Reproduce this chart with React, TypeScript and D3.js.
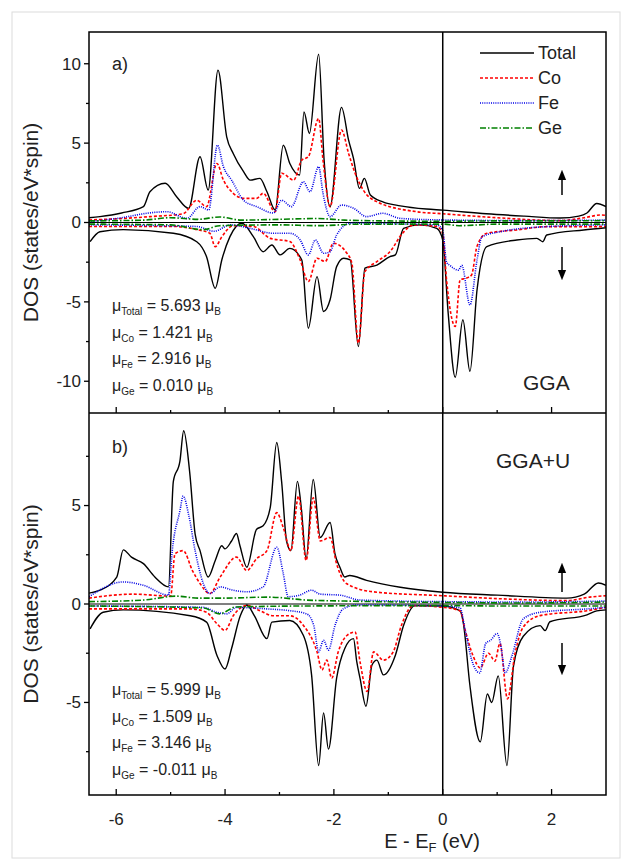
import React, { useRef, useEffect } from "react";
import * as d3 from "d3";

type Pt = [number, number];

// axis ticks
const energyTicks = [-6, -4, -2, 0, 2];
const energyMinor = [-5, -3, -1, 1];
const ggaTicks = [-10, -5, 0, 5, 10];
const ggaMinor = [-7.5, -2.5, 2.5, 7.5];
const ggauTicks = [-5, 0, 5];
const ggauMinor = [-7.5, -2.5, 2.5, 7.5];

const seriesNames = ["Total", "Co", "Fe", "Ge"];

// ---- panel a) GGA ----
const ggaTotalUp: Pt[] = [
  [-6.5, 0.3], [-6.3, 0.37], [-5.9, 0.6], [-5.5, 1.0], [-5.38, 1.94], [-5.1, 2.47], [-4.89, 1.62], [-4.67, 0.89],
  [-4.46, 4.14], [-4.31, 2.04], [-4.13, 9.6], [-3.97, 5.4], [-3.85, 4.35], [-3.66, 3.2], [-3.54, 2.67],
  [-3.36, 2.78], [-3.23, 1.94], [-3.08, 0.79], [-2.93, 4.87], [-2.81, 3.72], [-2.63, 2.99], [-2.55, 6.97],
  [-2.45, 5.61], [-2.28, 10.6], [-2.18, 3.93], [-2.07, 1.0], [-1.86, 7.25], [-1.73, 5.19], [-1.64, 4.04],
  [-1.53, 2.15], [-1.44, 2.78], [-1.33, 1.73], [-1.1, 1.3], [-0.78, 1.05], [-0.3, 0.85], [0, 0.78],
  [0.8, 0.55], [1.5, 0.4], [2.16, 0.28], [2.5, 0.4], [2.65, 0.6], [2.83, 1.2], [3.0, 1.0],
];
const ggaCoUp: Pt[] = [
  [-6.5, 0.16], [-5.9, 0.25], [-5.38, 0.37], [-4.77, 0.55], [-4.52, 1.4], [-4.34, 1.0], [-4.15, 3.72],
  [-4.03, 2.67], [-3.85, 1.84], [-3.66, 1.52], [-3.42, 1.52], [-3.3, 1.84], [-3.08, 0.68], [-2.96, 3.1],
  [-2.74, 2.67], [-2.59, 3.93], [-2.47, 4.14], [-2.28, 6.55], [-2.2, 3.93], [-2.07, 1.0], [-1.86, 5.82],
  [-1.73, 4.35], [-1.61, 3.1], [-1.46, 2.04], [-1.21, 1.31], [-0.48, 0.68], [0, 0.55], [1.0, 0.3],
  [2.16, 0.12], [2.6, 0.3], [2.9, 0.47], [3.0, 0.45],
];
const ggaFeUp: Pt[] = [
  [-6.5, 0.05], [-5.9, 0.3], [-5.44, 0.58], [-5.07, 0.68], [-4.7, 0.26], [-4.46, 1.0], [-4.3, 0.79],
  [-4.14, 4.87], [-4.03, 3.51], [-3.88, 2.67], [-3.66, 1.4], [-3.42, 1.0], [-3.11, 0.6], [-2.96, 1.4],
  [-2.78, 1.0], [-2.56, 2.57], [-2.44, 1.94], [-2.28, 3.51], [-2.2, 1.84], [-2.07, 0.37], [-1.86, 1.1],
  [-1.64, 0.9], [-1.4, 0.37], [-1.1, 0.58], [-0.78, 0.26], [0, 0.16], [1.5, 0.12], [3.0, 0.15],
];
const ggaGeUp: Pt[] = [
  [-6.5, 0.1], [-5.5, 0.15], [-5.0, 0.3], [-4.5, 0.2], [-4.1, 0.35], [-3.7, 0.15], [-3.0, 0.2],
  [-2.3, 0.25], [-1.8, 0.15], [-1.0, 0.1], [0, 0.08], [1.0, 0.1], [2.0, 0.1], [3.0, 0.12],
];
const ggaTotalDown: Pt[] = [
  [-6.48, -1.21], [-6.3, -0.58], [-5.87, -0.45], [-4.95, -0.68], [-4.52, -1.21], [-4.34, -2.15],
  [-4.18, -4.14], [-4.06, -2.36], [-3.91, -0.89], [-3.69, -0.05], [-3.48, -0.89], [-3.3, -1.84],
  [-3.14, -1.42], [-2.99, -2.04], [-2.81, -1.63], [-2.59, -2.36], [-2.47, -6.66], [-2.31, -3.41],
  [-2.19, -5.61], [-2.07, -4.87], [-1.95, -2.78], [-1.82, -2.25], [-1.7, -2.36], [-1.55, -7.81],
  [-1.43, -2.88], [-1.21, -2.68], [-0.97, -2.15], [-0.87, -2.04], [-0.72, -0.37], [-0.42, -0.15],
  [-0.11, -0.37], [0, -1.1], [0.1, -5.71], [0.23, -9.75], [0.37, -6.13], [0.5, -9.38], [0.63, -4.25],
  [0.81, -1.52], [1.36, -1.1], [1.73, -1.0], [1.84, -1.21], [1.91, -0.79], [2.59, -0.47], [3.0, -0.33],
];
const ggaCoDown: Pt[] = [
  [-6.5, -0.25], [-4.95, -0.25], [-4.52, -0.45], [-4.28, -0.68], [-4.18, -1.52], [-4.06, -0.9],
  [-3.85, -0.2], [-3.48, -0.25], [-3.17, -1.0], [-2.81, -1.2], [-2.62, -2.36], [-2.47, -3.72],
  [-2.31, -2.25], [-2.16, -2.46], [-2.01, -1.31], [-1.76, -1.94], [-1.67, -2.57], [-1.55, -7.6],
  [-1.43, -3.1], [-1.21, -2.46], [-0.97, -1.84], [-0.74, -0.68], [-0.53, -0.15], [-0.11, -0.25],
  [0, -0.7], [0.07, -3.6], [0.23, -6.55], [0.32, -3.6], [0.44, -3.5], [0.53, -3.3], [0.63, -1.5],
  [0.81, -0.68], [1.36, -0.47], [1.91, -0.26], [2.9, -0.26], [3.0, -0.25],
];
const ggaFeDown: Pt[] = [
  [-6.5, -0.15], [-4.52, -0.25], [-4.2, -0.55], [-3.9, -0.15], [-3.54, -0.37], [-3.11, -0.68],
  [-2.81, -0.68], [-2.62, -1.1], [-2.47, -2.04], [-2.34, -1.1], [-2.19, -1.94], [-2.07, -1.84],
  [-1.95, -0.79], [-1.7, -0.05], [-0.11, -0.15], [0, -0.5], [0.07, -2.5], [0.13, -2.7], [0.29, -3.0],
  [0.35, -2.7], [0.5, -5.19], [0.63, -2.36], [0.72, -0.9], [1.06, -0.58], [1.91, -0.26], [3.0, -0.15],
];
const ggaGeDown: Pt[] = [
  [-6.5, -0.1], [-5.0, -0.15], [-4.4, -0.45], [-4.1, -0.2], [-3.0, -0.15], [-2.3, -0.2], [-1.5, -0.1],
  [0, -0.1], [0.3, -0.2], [1.0, -0.1], [3.0, -0.1],
];

// ---- panel b) GGA+U ----
const ggauTotalUp: Pt[] = [
  [-6.5, 0.55], [-6.3, 0.7], [-5.99, 1.37], [-5.87, 2.75], [-5.72, 2.38], [-5.5, 2.05], [-5.29, 1.37],
  [-5.04, 0.87], [-4.95, 6.23], [-4.83, 7.24], [-4.76, 8.8], [-4.65, 6.7], [-4.55, 3.55], [-4.46, 2.71],
  [-4.31, 1.37], [-4.18, 2.21], [-4.06, 2.96], [-4.0, 2.8], [-3.88, 3.2], [-3.79, 3.58], [-3.73, 3.0],
  [-3.6, 1.87], [-3.42, 3.8], [-3.3, 3.97], [-3.17, 4.89], [-3.05, 8.2], [-2.96, 6.2], [-2.87, 3.2],
  [-2.79, 2.71], [-2.67, 6.23], [-2.6, 4.9], [-2.51, 2.3], [-2.38, 6.32], [-2.25, 3.38], [-2.07, 4.14],
  [-1.98, 2.55], [-1.89, 1.87], [-1.8, 1.37], [-1.71, 1.45], [-1.4, 1.2], [-0.78, 0.85], [0, 0.6],
  [1.0, 0.45], [2.28, 0.3], [2.6, 0.5], [2.86, 1.07], [3.0, 0.95],
];
const ggauCoUp: Pt[] = [
  [-6.5, 0.3], [-5.69, 0.5], [-5.0, 0.4], [-4.92, 2.55], [-4.77, 2.71], [-4.6, 1.7], [-4.46, 1.04],
  [-4.28, 0.53], [-4.09, 1.37], [-3.79, 2.38], [-3.6, 1.7], [-3.42, 2.3], [-3.23, 2.71], [-3.05, 4.64],
  [-2.93, 3.88], [-2.79, 2.71], [-2.65, 5.48], [-2.51, 2.21], [-2.38, 5.39], [-2.25, 3.2], [-2.07, 3.38],
  [-1.95, 2.04], [-1.77, 1.04], [-1.28, 0.62], [0, 0.42], [1.2, 0.25], [2.28, 0.17], [2.7, 0.35],
  [3.0, 0.42],
];
const ggauFeUp: Pt[] = [
  [-6.5, 0.37], [-5.87, 1.12], [-5.5, 0.95], [-5.04, 0.45], [-4.97, 2.71], [-4.83, 4.72], [-4.77, 5.48],
  [-4.67, 4.55], [-4.55, 2.71], [-4.4, 1.04], [-4.28, 0.53], [-4.09, 0.87], [-3.85, 0.7], [-3.6, 0.62],
  [-3.3, 0.87], [-3.05, 2.88], [-2.93, 1.54], [-2.84, 0.37], [-2.63, 0.45], [-2.41, 0.7], [-2.25, 0.5],
  [-1.89, 0.45], [-1.52, 0.2], [0, 0.12], [1.5, 0.1], [3.0, 0.15],
];
const ggauGeUp: Pt[] = [
  [-6.5, 0.12], [-5.5, 0.2], [-4.9, 0.4], [-4.5, 0.3], [-4.0, 0.3], [-3.2, 0.35], [-2.5, 0.2],
  [-1.8, 0.15], [0, 0.08], [1.5, 0.05], [3.0, 0.1],
];
const ggauTotalDown: Pt[] = [
  [-6.48, -1.26], [-6.24, -0.42], [-5.87, -0.3], [-4.64, -0.6], [-4.34, -0.92], [-4.15, -2.6],
  [-4.0, -3.3], [-3.88, -2.26], [-3.72, -0.6], [-3.6, -0.05], [-3.46, -0.6], [-3.23, -1.76],
  [-3.14, -0.92], [-2.81, -0.84], [-2.56, -1.6], [-2.41, -3.6], [-2.28, -8.2], [-2.19, -5.53],
  [-2.1, -7.37], [-1.95, -3.77], [-1.8, -2.26], [-1.64, -1.76], [-1.58, -2.93], [-1.52, -3.77],
  [-1.41, -5.19], [-1.3, -3.1], [-1.21, -2.85], [-1.09, -3.6], [-0.87, -2.6], [-0.72, -1.09],
  [-0.51, -0.08], [0, -0.1], [0.32, -0.35], [0.38, -1.0], [0.5, -4.15], [0.69, -7.0], [0.82, -4.57],
  [0.9, -5.0], [1.02, -3.65], [1.18, -8.2], [1.3, -3.15], [1.48, -1.64], [1.79, -1.1], [1.88, -1.35],
  [1.97, -0.9], [2.65, -0.55], [2.83, -0.35], [3.0, -0.3],
];
const ggauCoDown: Pt[] = [
  [-6.5, -0.25], [-4.64, -0.25], [-4.34, -0.42], [-4.15, -1.0], [-4.0, -1.34], [-3.85, -0.6],
  [-3.6, -0.08], [-3.36, -0.34], [-3.11, -0.6], [-2.81, -0.6], [-2.56, -1.09], [-2.31, -2.43],
  [-2.22, -3.35], [-2.13, -2.85], [-2.04, -3.77], [-1.92, -2.43], [-1.76, -1.6], [-1.61, -1.42],
  [-1.52, -2.93], [-1.39, -4.44], [-1.27, -2.43], [-1.09, -2.85], [-0.91, -2.43], [-0.76, -1.09],
  [-0.54, -0.08], [0, -0.17], [0.32, -0.35], [0.41, -1.3], [0.56, -2.65], [0.69, -3.25], [0.84, -2.5],
  [0.96, -2.9], [1.05, -2.0], [1.19, -4.82], [1.33, -2.5], [1.48, -1.17], [1.79, -0.59], [2.65, -0.34],
  [3.0, -0.17],
];
const ggauFeDown: Pt[] = [
  [-6.5, -0.1], [-4.4, -0.17], [-4.15, -0.42], [-3.97, -0.5], [-3.79, -0.17], [-3.23, -0.25],
  [-2.81, -0.34], [-2.5, -0.5], [-2.37, -1.09], [-2.28, -2.43], [-2.19, -1.84], [-2.1, -2.34],
  [-1.98, -1.09], [-1.83, -0.25], [-1.58, -0.05], [0, -0.1], [0.32, -0.2], [0.41, -1.3], [0.53, -2.82],
  [0.68, -3.5], [0.79, -2.0], [0.88, -1.84], [1.0, -1.5], [1.06, -2.0], [1.15, -3.5], [1.27, -2.65],
  [1.48, -0.75], [1.79, -0.42], [2.65, -0.25], [3.0, -0.17],
];
const ggauGeDown: Pt[] = [
  [-6.5, -0.1], [-4.4, -0.2], [-4.1, -0.5], [-3.8, -0.15], [-2.5, -0.1], [0, -0.08], [1.0, -0.1],
  [3.0, -0.1],
];

const ggaMoments = [
  ["Total", "5.693", ""], ["Co", "1.421", ""], ["Fe", "2.916", ""], ["Ge", "0.010", ""],
];
const ggauMoments = [
  ["Total", "5.999", " "], ["Co", "1.509", ""], ["Fe", "3.146", ""], ["Ge", "-0.011", ""],
];

const styles: Record<string, { color: string; dash: string; width: number }> = {
  Total: { color: "#000", dash: "none", width: 1.4 },
  Co: { color: "#f00", dash: "3,2", width: 1.6 },
  Fe: { color: "#0000e6", dash: "1,1.2", width: 1.6 },
  Ge: { color: "#008000", dash: "6,2,1.5,2", width: 1.6 },
};

const FONT = "'Liberation Sans', Arial, sans-serif";

function App() {
  const svgRef = useRef<SVGSVGElement>(null);

  useEffect(() => {
    const svg = d3.select(svgRef.current);
    svg.selectAll("*").remove();

    const left = 89, right = 606;
    const x = d3.scaleLinear().domain([-6.5, 3]).range([left, right]);

    const panels = [
      {
        key: "a", top: 32, bottom: 413, domain: [-12, 12], ticks: ggaTicks, minor: ggaMinor,
        curves: { Total: [ggaTotalUp, ggaTotalDown], Co: [ggaCoUp, ggaCoDown], Fe: [ggaFeUp, ggaFeDown], Ge: [ggaGeUp, ggaGeDown] } as Record<string, Pt[][]>,
        label: "a)", labelY: 70, method: "GGA", methodX: 523, methodY: 390,
        moments: ggaMoments, momentsY: 311, arrowUp: [195, 175], arrowDown: [247, 275],
      },
      {
        key: "b", top: 413, bottom: 795, domain: [-9.7, 9.7], ticks: ggauTicks, minor: ggauMinor,
        curves: { Total: [ggauTotalUp, ggauTotalDown], Co: [ggauCoUp, ggauCoDown], Fe: [ggauFeUp, ggauFeDown], Ge: [ggauGeUp, ggauGeDown] } as Record<string, Pt[][]>,
        label: "b)", labelY: 453, method: "GGA+U", methodX: 496, methodY: 468,
        moments: ggauMoments, momentsY: 695, arrowUp: [592, 568], arrowDown: [643, 670],
      },
    ];

    svg.append("rect").attr("x", 12).attr("y", 12).attr("width", 608).attr("height", 846)
      .attr("fill", "#fff").attr("stroke", "#dcdcdc").attr("stroke-width", 1);

    const defs = svg.append("defs");
    defs.append("marker").attr("id", "ah").attr("viewBox", "0 0 10 10").attr("refX", 5).attr("refY", 5)
      .attr("markerWidth", 7).attr("markerHeight", 9).attr("orient", "auto-start-reverse")
      .append("path").attr("d", "M0,1 L10,5 L0,9 Z").attr("fill", "#000");

    panels.forEach((p) => {
      const y = d3.scaleLinear().domain(p.domain).range([p.bottom, p.top]);
      defs.append("clipPath").attr("id", "clip" + p.key)
        .append("rect").attr("x", left).attr("y", p.top).attr("width", right - left).attr("height", p.bottom - p.top);

      const g = svg.append("g").attr("clip-path", `url(#clip${p.key})`);
      const line = d3.line<Pt>().x((d) => x(d[0])).y((d) => y(d[1])).curve(d3.curveMonotoneX);

      // zero line
      g.append("line").attr("x1", left).attr("x2", right).attr("y1", y(0)).attr("y2", y(0))
        .attr("stroke", "#000").attr("stroke-width", 1);

      seriesNames.forEach((name) => {
        const st = styles[name];
        p.curves[name].forEach((data) => {
          g.append("path").datum(data).attr("d", line).attr("fill", "none")
            .attr("stroke", st.color).attr("stroke-width", st.width)
            .attr("stroke-dasharray", st.dash).attr("stroke-linejoin", "round");
        });
      });

      // y ticks (outward)
      p.ticks.forEach((t) => {
        svg.append("line").attr("x1", left - 5).attr("x2", left).attr("y1", y(t)).attr("y2", y(t))
          .attr("stroke", "#000").attr("stroke-width", 1.3);
        svg.append("text").attr("x", left - 8).attr("y", y(t)).attr("dy", "0.35em")
          .attr("text-anchor", "end").attr("font-size", 17).attr("font-family", FONT).attr("fill", "#222")
          .text(t);
      });
      p.minor.forEach((t) => {
        svg.append("line").attr("x1", left - 3).attr("x2", left).attr("y1", y(t)).attr("y2", y(t))
          .attr("stroke", "#000").attr("stroke-width", 1.3);
      });
      // x ticks (inward)
      energyTicks.forEach((t) => {
        svg.append("line").attr("x1", x(t)).attr("x2", x(t)).attr("y1", p.bottom).attr("y2", p.bottom - 6)
          .attr("stroke", "#000").attr("stroke-width", 1.3);
      });
      energyMinor.forEach((t) => {
        svg.append("line").attr("x1", x(t)).attr("x2", x(t)).attr("y1", p.bottom).attr("y2", p.bottom - 3)
          .attr("stroke", "#000").attr("stroke-width", 1.3);
      });

      // y title
      svg.append("text").attr("transform", `translate(38,${(p.top + p.bottom) / 2}) rotate(-90)`)
        .attr("text-anchor", "middle").attr("font-size", 21).attr("font-family", FONT).attr("fill", "#222")
        .text("DOS (states/eV*spin)");

      svg.append("text").attr("x", 112).attr("y", p.labelY).attr("font-size", 18).attr("font-family", FONT)
        .attr("fill", "#222").text(p.label);
      svg.append("text").attr("x", p.methodX).attr("y", p.methodY).attr("font-size", 21).attr("font-family", FONT)
        .attr("fill", "#222").text(p.method);

      // moments
      p.moments.forEach((m, i) => {
        const t = svg.append("text").attr("x", 112).attr("y", p.momentsY + i * 26.5)
          .attr("font-size", 16).attr("font-family", FONT).attr("fill", "#222");
        t.append("tspan").text("μ");
        t.append("tspan").attr("dy", 4).attr("font-size", 10).text(m[0]);
        t.append("tspan").attr("dy", -4).text(` = ${m[1]} ${m[2]}μ`);
        t.append("tspan").attr("dy", 4).attr("font-size", 10).text("B");
      });

      // spin arrows
      const ax = 562;
      svg.append("line").attr("x1", ax).attr("x2", ax).attr("y1", p.arrowUp[0]).attr("y2", p.arrowUp[1])
        .attr("stroke", "#000").attr("stroke-width", 1.5).attr("marker-end", "url(#ah)");
      svg.append("line").attr("x1", ax).attr("x2", ax).attr("y1", p.arrowDown[0]).attr("y2", p.arrowDown[1])
        .attr("stroke", "#000").attr("stroke-width", 1.5).attr("marker-end", "url(#ah)");
    });

    // frame, divider, Fermi level
    svg.append("rect").attr("x", left).attr("y", 32).attr("width", right - left).attr("height", 795 - 32)
      .attr("fill", "none").attr("stroke", "#000").attr("stroke-width", 1.5);
    svg.append("line").attr("x1", left).attr("x2", right).attr("y1", 413).attr("y2", 413)
      .attr("stroke", "#000").attr("stroke-width", 1.5);
    svg.append("line").attr("x1", x(0)).attr("x2", x(0)).attr("y1", 32).attr("y2", 795)
      .attr("stroke", "#000").attr("stroke-width", 1.5);

    // x tick labels and title
    energyTicks.forEach((t) => {
      svg.append("text").attr("x", x(t)).attr("y", 825).attr("text-anchor", "middle")
        .attr("font-size", 17).attr("font-family", FONT).attr("fill", "#222").text(t);
    });
    const xt = svg.append("text").attr("x", 432).attr("y", 848).attr("text-anchor", "middle")
      .attr("font-size", 20).attr("font-family", FONT).attr("fill", "#222");
    xt.append("tspan").text("E - E");
    xt.append("tspan").attr("dy", 4).attr("font-size", 13).text("F");
    xt.append("tspan").attr("dy", -4).text(" (eV)");

    // legend
    seriesNames.forEach((name, i) => {
      const st = styles[name];
      const ly = 53 + i * 25;
      svg.append("line").attr("x1", 480).attr("x2", 534).attr("y1", ly).attr("y2", ly)
        .attr("stroke", st.color).attr("stroke-width", st.width).attr("stroke-dasharray", st.dash);
      svg.append("text").attr("x", 538).attr("y", ly).attr("dy", "0.35em").attr("font-size", 18)
        .attr("font-family", FONT).attr("fill", "#222").text(name);
    });
  }, []);

  return (
    <svg ref={svgRef} width={624} height={859} style={{ position: "absolute", left: 0, top: 0, background: "#fff" }} />
  );
}

export default App;
